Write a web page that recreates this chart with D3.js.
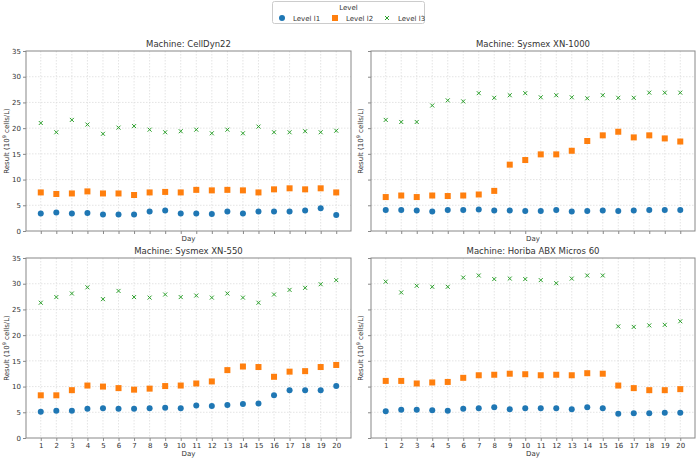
<!DOCTYPE html>
<html>
<head>
<meta charset="utf-8" />
<title>Results by machine</title>
<script src="https://cdn.jsdelivr.net/npm/d3@7"></script>
<style>
body { margin: 0; background: #fff; }
svg text { font-family: "DejaVu Sans", sans-serif; fill: #333; }
.grid line { stroke: #ddd; stroke-dasharray: 1.5,1.5; stroke-width: 0.8; }
.axis path, .axis line { stroke: #888; }
.frame { fill: none; stroke: #888; stroke-width: 1; }
</style>
</head>
<body>
<svg width="700" height="460"></svg>
<script>

var days = d3.range(1, 21);
var machines = ["CellDyn22", "Sysmex XN-1000", "Sysmex XN-550", "Horiba ABX Micros 60"];
var levels = ["Level l1", "Level l2", "Level l3"];
var yTicks = [0, 5, 10, 15, 20, 25, 30, 35];

// values per machine, one array per level (day 1..20)
var cellDynL1 = [3.4, 3.6, 3.4, 3.5, 3.2, 3.2, 3.2, 3.8, 4.0, 3.4, 3.4, 3.3, 3.8, 3.4, 3.8, 3.8, 3.8, 4.0, 4.4, 3.1];
var cellDynL2 = [7.5, 7.2, 7.3, 7.7, 7.3, 7.3, 7.0, 7.5, 7.6, 7.5, 8.0, 7.9, 8.0, 7.9, 7.5, 8.1, 8.3, 8.1, 8.3, 7.5];
var cellDynL3 = [21.0, 19.2, 21.6, 20.7, 18.9, 20.1, 20.4, 19.7, 19.2, 19.4, 19.7, 19.0, 19.7, 19.0, 20.3, 19.2, 19.2, 19.4, 19.2, 19.5];

var xn1000L1 = [4.1, 4.1, 4.0, 3.8, 4.1, 4.1, 4.2, 4.0, 4.0, 3.9, 3.9, 4.1, 3.8, 3.9, 4.0, 3.9, 4.0, 4.1, 4.1, 4.1];
var xn1000L2 = [6.6, 6.9, 6.6, 6.9, 6.8, 6.9, 7.1, 7.8, 12.9, 13.8, 14.9, 14.9, 15.6, 17.5, 18.6, 19.3, 18.2, 18.6, 18.0, 17.4];
var xn1000L3 = [21.6, 21.2, 21.2, 24.4, 25.4, 25.2, 26.8, 25.9, 26.4, 26.8, 26.0, 26.4, 26.0, 25.8, 26.4, 25.9, 25.9, 26.9, 26.9, 26.9];

var xn550L1 = [5.1, 5.3, 5.3, 5.7, 5.8, 5.7, 5.7, 5.8, 5.9, 5.8, 6.3, 6.2, 6.4, 6.6, 6.7, 8.3, 9.3, 9.3, 9.3, 10.1];
var xn550L2 = [8.3, 8.3, 9.3, 10.2, 10.0, 9.7, 9.4, 9.6, 10.1, 10.2, 10.6, 11.0, 13.2, 13.9, 13.8, 11.9, 12.9, 13.0, 13.8, 14.2];
var xn550L3 = [26.3, 27.4, 28.1, 29.3, 27.0, 28.6, 27.4, 27.3, 27.9, 27.4, 27.7, 27.3, 28.1, 27.3, 26.3, 27.9, 28.8, 29.2, 29.9, 30.7];

var horibaL1 = [5.2, 5.5, 5.5, 5.4, 5.3, 5.7, 5.8, 6.0, 5.6, 5.8, 5.8, 5.8, 5.6, 6.0, 5.8, 4.7, 4.8, 4.8, 4.9, 4.9];
var horibaL2 = [11.1, 11.1, 10.6, 10.8, 10.9, 11.7, 12.2, 12.3, 12.5, 12.4, 12.2, 12.3, 12.2, 12.6, 12.5, 10.2, 9.7, 9.3, 9.3, 9.5];
var horibaL3 = [30.4, 28.3, 29.6, 29.4, 29.4, 31.2, 31.6, 30.9, 31.0, 30.9, 30.7, 30.1, 31.0, 31.6, 31.6, 21.7, 21.6, 21.9, 22.0, 22.7];

var series = [
  [cellDynL1, cellDynL2, cellDynL3],
  [xn1000L1, xn1000L2, xn1000L3],
  [xn550L1, xn550L2, xn550L3],
  [horibaL1, horibaL2, horibaL3]
];

var colors = ["#1f77b4", "#ff7f0e", "#2ca02c"];

var svg = d3.select("svg");

// panel boxes: [left, top, right, bottom]
var boxes = [
  [26, 51, 351, 231],
  [371, 51, 695, 231],
  [26, 258, 351, 438],
  [371, 258, 695, 438]
];

function drawMarker(sel, lvl, color) {
  if (lvl == 0) {
    sel.append("circle").attr("r", 3).attr("fill", color);
  } else if (lvl == 1) {
    sel.append("rect").attr("x", -3).attr("y", -3).attr("width", 6).attr("height", 6).attr("fill", color);
  } else {
    sel.append("path").attr("d", "M-2,-2L2,2M-2,2L2,-2")
      .attr("stroke", color).attr("stroke-width", 1).attr("fill", "none");
  }
}

machines.forEach(function(name, i) {
  var b = boxes[i];
  var isLeft = (i % 2 == 0), isBottom = (i >= 2);

  var x = d3.scaleLinear().domain([0.05, 20.95]).range([b[0], b[2]]);
  var y = d3.scaleLinear().domain([0, 35]).range([b[3], b[1]]);

  var g = svg.append("g");

  // grid
  var grid = g.append("g").attr("class", "grid");
  grid.selectAll(".gy").data(yTicks.slice(1, -1)).enter().append("line")
      .attr("x1", b[0]).attr("x2", b[2])
      .attr("y1", function(d) { return y(d); }).attr("y2", function(d) { return y(d); });
  grid.selectAll(".gx").data(days).enter().append("line")
      .attr("y1", b[1]).attr("y2", b[3])
      .attr("x1", function(d) { return x(d); }).attr("x2", function(d) { return x(d); });

  // axes
  var xAxis = d3.axisBottom(x).tickValues(days).tickSize(3).tickPadding(2);
  if (!isBottom) xAxis.tickFormat("");
  var ax = g.append("g").attr("class", "axis")
      .attr("transform", "translate(0," + b[3] + ")")
      .call(xAxis);
  ax.select(".domain").remove();
  ax.selectAll("text").attr("font-size", 7);

  var yAxis = d3.axisLeft(y).tickValues(yTicks).tickSize(3).tickPadding(2);
  if (!isLeft) yAxis.tickFormat("");
  var ay = g.append("g").attr("class", "axis")
      .attr("transform", "translate(" + b[0] + ",0)")
      .call(yAxis);
  ay.select(".domain").remove();
  ay.selectAll("text").attr("font-size", 7);

  g.append("rect").attr("class", "frame")
      .attr("x", b[0]).attr("y", b[1])
      .attr("width", b[2] - b[0]).attr("height", b[3] - b[1]);

  // labels
  g.append("text")
      .attr("x", (b[0] + b[2]) / 2).attr("y", b[1] - 4)
      .attr("text-anchor", "middle").attr("font-size", 8.5)
      .text("Machine: " + name);

  g.append("text")
      .attr("x", (b[0] + b[2]) / 2).attr("y", isBottom ? b[3] + 18 : b[3] + 10)
      .attr("text-anchor", "middle").attr("font-size", 7)
      .text("Day");

  var yl = g.append("text")
      .attr("transform", "translate(" + (b[0] - (isLeft ? 17 : 8)) + "," + ((b[1] + b[3]) / 2) + ") rotate(-90)")
      .attr("text-anchor", "middle").attr("font-size", 7);
  yl.append("tspan").text("Result (10");
  yl.append("tspan").attr("font-size", 5).attr("dy", -3).text("9");
  yl.append("tspan").attr("dy", 3).text(" cells/L)");

  // points
  series[i].forEach(function(vals, lvl) {
    g.append("g").selectAll("g").data(vals).enter().append("g")
      .attr("transform", function(d, k) { return "translate(" + x(days[k]) + "," + y(d) + ")"; })
      .each(function() { drawMarker(d3.select(this), lvl, colors[lvl]); });
  });
});

// legend
var lg = svg.append("g");
lg.append("rect").attr("x", 272.5).attr("y", 1.5).attr("width", 152).attr("height", 22)
    .attr("fill", "#fff").attr("stroke", "#ccc").attr("rx", 2);
lg.append("text").attr("x", 348.5).attr("y", 10).attr("text-anchor", "middle")
    .attr("font-size", 7).text("Level");
var legX = [282, 335, 387];
levels.forEach(function(lv, k) {
  var it = lg.append("g").attr("transform", "translate(" + legX[k] + ",18)");
  drawMarker(it, k, colors[k]);
  it.append("text").attr("x", 11).attr("y", 2.5).attr("font-size", 7).text(lv);
});

</script>
</body>
</html>
